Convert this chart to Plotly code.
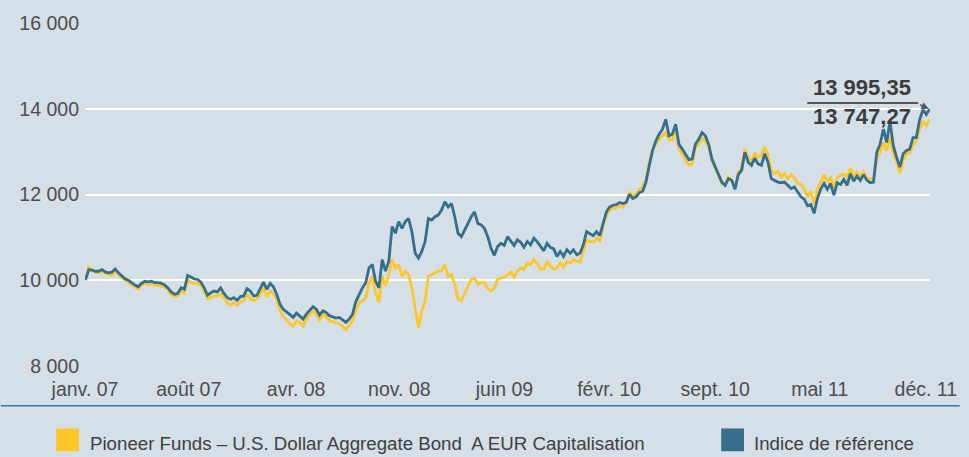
import plotly.graph_objects as go
import pandas as pd

# ---------------- data ----------------
start_date = "2007-01-02"
end_date = "2011-12-30"

fund_name = "Pioneer Funds \u2013 U.S. Dollar Aggregate Bond\u00a0 A EUR Capitalisation"
index_name = "Indice de r\u00e9f\u00e9rence"

fund_values = [
    10000, 10310, 10260, 10185, 10170, 10210, 10155, 10130, 10110, 10210,
    10130, 10060, 10000, 9955, 9890, 9840, 9800, 9880, 9925, 9900,
    9915, 9890, 9880, 9860, 9840, 9770, 9660, 9615, 9630, 9770,
    9705, 10000, 9940, 9940, 9925, 9880, 9745, 9570, 9590, 9630,
    9630, 9690, 9590, 9475, 9415, 9475, 9415, 9490, 9515, 9670,
    9570, 9515, 9555, 9670, 9820, 9615, 9745, 9690, 9555, 9285,
    9150, 9050, 8975, 8920, 9050, 9015, 8920, 9090, 9205, 9285,
    9205, 9075, 9205, 9150, 9050, 9030, 9000, 8975, 8920, 8845,
    8935, 9050, 9300, 9475, 9515, 9590, 9940, 10090, 9705, 9475,
    10090, 9860, 10130, 10480, 10285, 10365, 10090, 10210, 10130, 9820,
    9330, 8900, 9285, 9515, 10090, 10130, 10170, 10210, 10210, 10365,
    10090, 10130, 9900, 9555, 9515, 9670, 9860, 10015, 10055, 9900,
    9940, 9940, 9800, 9750, 9820, 10015, 10055, 10070, 10130, 10190,
    10070, 10210, 10285, 10250, 10400, 10365, 10480, 10400, 10250, 10250,
    10440, 10325, 10250, 10285, 10400, 10300, 10440, 10400, 10480, 10440,
    10420, 10685, 10940, 10900, 10885, 10980, 10920, 11250, 11520, 11635,
    11675, 11690, 11735, 11710, 11815, 12060, 11945, 12020, 12125, 12175,
    12370, 12755, 13060, 13175, 13290, 13370, 13445, 13275, 13275, 13525,
    13060, 12950, 12830, 12680, 12715, 13100, 13175, 13305, 13255, 13120,
    12795, 12600, 12410, 12255, 12215, 12410, 12330, 12155, 12505, 12620,
    13060, 12850, 12775, 12950, 12870, 12910, 13100, 12910, 12565, 12485,
    12545, 12410, 12485, 12370, 12465, 12390, 12255, 12235, 12125, 11945,
    12075, 11765, 12125, 12310, 12465, 12310, 12390, 12160, 12390, 12445,
    12485, 12410, 12620, 12410, 12525, 12410, 12525, 12370, 12360, 12360,
    12830, 12985, 13215, 13025, 13370, 12950, 12755, 12505, 12795, 12950,
    12970, 13160, 13255, 13525, 13715, 13615, 13747.27,
]

index_values = [
    10000, 10247, 10231, 10208, 10208, 10247, 10192, 10170, 10185, 10260,
    10170, 10090, 10030, 10000, 9940, 9885, 9845, 9925, 9975, 9960,
    9975, 9940, 9940, 9925, 9890, 9820, 9725, 9670, 9690, 9820,
    9785, 10110, 10075, 10030, 10015, 9955, 9820, 9645, 9705, 9745,
    9725, 9820, 9690, 9590, 9555, 9590, 9530, 9615, 9630, 9800,
    9745, 9630, 9645, 9785, 9955, 9785, 9925, 9845, 9670, 9440,
    9320, 9260, 9205, 9130, 9230, 9170, 9090, 9205, 9305, 9380,
    9320, 9185, 9285, 9245, 9170, 9150, 9115, 9130, 9075, 9015,
    9090, 9205, 9500, 9670, 9820, 9940, 10285, 10365, 9975, 9820,
    10480, 10210, 10440, 11250, 11095, 11365, 11210, 11365, 11440, 11130,
    10630, 10515, 10670, 10900, 11440, 11405, 11480, 11520, 11635, 11830,
    11710, 11790, 11480, 11095, 11015, 11170, 11325, 11480, 11595, 11325,
    11290, 11210, 11015, 10745, 10580, 10785, 10860, 10810, 11015, 10900,
    10810, 10940, 10885, 10765, 10900, 10825, 10980, 10900, 10785, 10685,
    10860, 10765, 10730, 10555, 10670, 10555, 10710, 10630, 10710, 10595,
    10630, 10825, 11130, 11075, 11040, 11130, 11040, 11325, 11595, 11710,
    11750, 11765, 11815, 11790, 11815, 12005, 11905, 11945, 12045, 12075,
    12290, 12680, 13025, 13255, 13410, 13525, 13750, 13370, 13410, 13640,
    13175, 13060, 12950, 12815, 12830, 13175, 13290, 13445, 13370, 13175,
    12830, 12640, 12485, 12290, 12215, 12370, 12330, 12125, 12465, 12565,
    12985, 12755, 12680, 12850, 12715, 12680, 12950, 12755, 12370, 12330,
    12290, 12275, 12290, 12215, 12140, 12175, 12060, 11945, 11890, 11735,
    11765, 11560, 11905, 12125, 12255, 12125, 12255, 11985, 12275, 12235,
    12350, 12215, 12485, 12310, 12430, 12330, 12465, 12330, 12275, 12290,
    12985, 13175, 13525, 13215, 13715, 13140, 12870, 12640, 12950, 13025,
    13060, 13330, 13330, 13750, 13980, 13870, 13995.35,
]

tick_dates = ["2007-01-01", "2007-08-13", "2008-04-01", "2008-11-10", "2009-06-25",
              "2010-02-06", "2010-09-23", "2011-05-07", "2011-12-22"]
tick_labels = ["janv. 07", "août 07", "avr. 08", "nov. 08", "juin 09",
               "févr. 10", "sept. 10", "mai 11", "déc. 11"]
y_ticks = [8000, 10000, 12000, 14000, 16000]
y_tick_labels = ["8 000", "10 000", "12 000", "14 000", "16 000"]
end_labels = ["13 995,35", "13 747,27"]

# ---------------- styling ----------------
W, H = 969, 457
L, R, T, B = 85, 939, 20, 366          # plot area in pixels
BG = "#d4dfe7"
YELLOW = "#ffc629"
BLUE = "#346f8d"
TEXT = "#4d4d4d"
LEGEND_FONT = dict(family="Liberation Sans, Arial, sans-serif", size=18.7, color="#404040")


def px(x):
    return (x - L) / (R - L)


def py(y):
    return (B - y) / (B - T)


fund_dates = pd.date_range(start_date, end_date, periods=len(fund_values))
index_dates = pd.date_range(start_date, end_date, periods=len(index_values))

fig = go.Figure()
fig.add_trace(go.Scatter(x=fund_dates, y=fund_values, mode="lines", name=fund_name,
                         line=dict(color=YELLOW, width=2.8), showlegend=False))
fig.add_trace(go.Scatter(x=index_dates, y=index_values, mode="lines", name=index_name,
                         line=dict(color=BLUE, width=2.8), showlegend=False))

fig.update_layout(
    width=W, height=H,
    margin=dict(l=L, r=W - R, t=T, b=H - B, pad=0),
    paper_bgcolor=BG, plot_bgcolor=BG,
    font=dict(family="Liberation Sans, Arial, sans-serif", color=TEXT),
    xaxis=dict(type="date", range=["2007-01-01", "2011-12-31"],
               tickvals=tick_dates, ticktext=tick_labels,
               showgrid=False, zeroline=False, showline=False, ticks="",
               tickfont=dict(size=19.5, color=TEXT), ticklabelstandoff=9),
    yaxis=dict(range=[7995, 16005], tickvals=y_ticks, ticktext=y_tick_labels,
               showgrid=True, gridcolor="white", gridwidth=2,
               zeroline=False, showline=False, ticks="",
               tickfont=dict(size=19.5, color=TEXT), ticklabelstandoff=5),
)

shapes = []
# steel-blue separator line under the x labels
shapes.append(dict(type="line", xref="paper", yref="paper",
                   x0=px(0), x1=px(W), y0=py(406), y1=py(406),
                   line=dict(color="#3a78ab", width=1.5)))
# legend squares
shapes.append(dict(type="rect", xref="paper", yref="paper",
                   x0=px(56), x1=px(79), y0=py(452), y1=py(429),
                   fillcolor=YELLOW, line=dict(width=0)))
shapes.append(dict(type="rect", xref="paper", yref="paper",
                   x0=px(728), x1=px(751), y0=py(452), y1=py(429),
                   fillcolor=BLUE, line=dict(width=0)))
# leader line of the end-value label
shapes.append(dict(type="line", xref="paper", yref="paper",
                   x0=px(815), x1=px(927), y0=py(100.7), y1=py(100.7),
                   line=dict(color="#555555", width=1.8)))
fig.update_layout(shapes=shapes)

annotations = [
    dict(text=fund_name, xref="paper", yref="paper", x=px(88), y=py(444),
         xanchor="left", yanchor="middle", showarrow=False, font=LEGEND_FONT),
    dict(text=index_name, xref="paper", yref="paper", x=px(759), y=py(444),
         xanchor="left", yanchor="middle", showarrow=False, font=LEGEND_FONT),
    dict(text="<b>%s</b>" % end_labels[0], xref="paper", yref="paper", x=px(870.5), y=py(85),
         xanchor="center", yanchor="middle", showarrow=False,
         font=dict(size=22, color="#3c3c3c")),
    dict(text="<b>%s</b>" % end_labels[1], xref="paper", yref="paper", x=px(870.5), y=py(114.5),
         xanchor="center", yanchor="middle", showarrow=False,
         font=dict(size=22, color="#3c3c3c")),
    dict(text="", x=index_dates[-1], y=index_values[-1], xref="x", yref="y",
         showarrow=True, ax=-11, ay=-5, arrowhead=2, arrowsize=0.9,
         arrowwidth=1.6, arrowcolor="#555555", standoff=1),
]
fig.update_layout(annotations=annotations)

fig.write_html("out.html")
